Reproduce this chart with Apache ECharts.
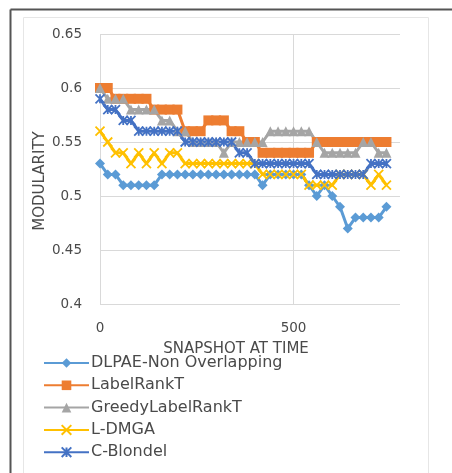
<!DOCTYPE html>
<html><head><meta charset="utf-8">
<script src="https://cdn.jsdelivr.net/npm/echarts@6/dist/echarts.min.js"></script>
<style>html,body{margin:0;padding:0;background:#fff}#c{width:452px;height:473px}</style>
</head><body><div id="c"></div>
<script>
const snapshots = [0,20,40,60,80,100,120,140,160,180,200,220,240,260,280,300,320,340,360,380,400,420,440,460,480,500,520,540,560,580,600,620,640,660,680,700,720,740];
const dlpae = [0.53,0.52,0.52,0.51,0.51,0.51,0.51,0.51,0.52,0.52,0.52,0.52,0.52,0.52,0.52,0.52,0.52,0.52,0.52,0.52,0.52,0.51,0.52,0.52,0.52,0.52,0.52,0.51,0.50,0.51,0.50,0.49,0.47,0.48,0.48,0.48,0.48,0.49];
const labelRankT = [0.60,0.60,0.59,0.59,0.59,0.59,0.59,0.58,0.58,0.58,0.58,0.56,0.56,0.56,0.57,0.57,0.57,0.56,0.56,0.55,0.55,0.54,0.54,0.54,0.54,0.54,0.54,0.54,0.55,0.55,0.55,0.55,0.55,0.55,0.55,0.55,0.55,0.55];
const greedy = [0.60,0.59,0.59,0.59,0.58,0.58,0.58,0.58,0.57,0.57,0.56,0.56,0.55,0.55,0.55,0.55,0.54,0.55,0.55,0.55,0.55,0.55,0.56,0.56,0.56,0.56,0.56,0.56,0.55,0.54,0.54,0.54,0.54,0.54,0.55,0.55,0.54,0.54];
const ldmga = [0.56,0.55,0.54,0.54,0.53,0.54,0.53,0.54,0.53,0.54,0.54,0.53,0.53,0.53,0.53,0.53,0.53,0.53,0.53,0.53,0.53,0.52,0.52,0.52,0.52,0.52,0.52,0.51,0.51,0.51,0.51,0.52,0.52,0.52,0.52,0.51,0.52,0.51];
const cblondel = [0.59,0.58,0.58,0.57,0.57,0.56,0.56,0.56,0.56,0.56,0.56,0.55,0.55,0.55,0.55,0.55,0.55,0.55,0.54,0.54,0.53,0.53,0.53,0.53,0.53,0.53,0.53,0.53,0.52,0.52,0.52,0.52,0.52,0.52,0.52,0.53,0.53,0.53];
const seriesNames = ['DLPAE-Non Overlapping','LabelRankT','GreedyLabelRankT','L-DMGA','C-Blondel'];
const xTitle = 'SNAPSHOT AT TIME';
const yTitle = 'MODULARITY';

const FONT = 'DejaVu Sans';
const TXT = '#4a4a4a';
const pair = arr => snapshots.map((x,i)=>[x,arr[i]]);
const mk = (name, data, color, symbol, size, extra) => Object.assign({
  name, type:'line', data: pair(data), symbol, symbolSize:size,
  lineStyle:{color, width:3}, itemStyle:{color, borderColor:color, borderWidth:0},
  emphasis:{disabled:true}, animation:false
}, extra||{});

const chart = echarts.init(document.getElementById('c'), null, {renderer:'canvas'});
chart.setOption({
  backgroundColor:'#fff',
  animation:false,
  grid:{left:100, right:52, top:34, bottom:169},
  xAxis:{type:'value', min:0, max:775, interval:500,
    axisLine:{show:false}, axisTick:{show:false},
    axisLabel:{color:TXT, fontFamily:FONT, fontSize:13.5, margin:17, showMaxLabel:false},
    splitLine:{show:true, lineStyle:{color:['#d9d9d9','#d9d9d9','rgba(0,0,0,0)'], width:1}}},
  yAxis:{type:'value', min:0.4, max:0.65, interval:0.05,
    axisLine:{show:false}, axisTick:{show:false},
    axisLabel:{color:TXT, fontFamily:FONT, fontSize:13.5, margin:18,
      formatter: v => String(Math.round(v*100)/100)},
    splitLine:{show:true, lineStyle:{color:'#d9d9d9', width:1}}},
  legend:{orient:'vertical', left:38, top:355, height:130, itemWidth:45, itemHeight:12, itemGap:6.3,
    padding:[0,5,0,5],
    textStyle:{color:TXT, fontFamily:FONT, fontSize:16, padding:[0,0,0,-3]},
    data: seriesNames},
  graphic:[
    {type:'line', shape:{x1:10.5,y1:9.5,x2:452,y2:9.5}, style:{stroke:'#555', lineWidth:2}, silent:true},
    {type:'line', shape:{x1:10.5,y1:9.5,x2:10.5,y2:473}, style:{stroke:'#555', lineWidth:2}, silent:true},
    {type:'rect', shape:{x:23.5,y:17.5,width:405,height:460}, style:{fill:'none', stroke:'#e6e6e6', lineWidth:1}, silent:true},
    {type:'text', x:236, y:349, style:{text:xTitle, fill:TXT, font:'15px "'+FONT+'"', textAlign:'center', textVerticalAlign:'middle'}, silent:true},
    {type:'text', x:40, y:181, rotation:Math.PI/2, style:{text:yTitle, fill:TXT, font:'15px "'+FONT+'"', textAlign:'center', textVerticalAlign:'middle'}, silent:true}
  ],
  series:[
    mk(seriesNames[0], dlpae, '#5B9BD5', 'diamond', 10),
    mk(seriesNames[1], labelRankT, '#ED7D31', 'rect', 10),
    mk(seriesNames[2], greedy, '#A5A5A5', 'triangle', 10),
    mk(seriesNames[3], ldmga, '#FFC000', 'path://M0,0L10,10M10,0L0,10', 9, {itemStyle:{color:'#FFC000', borderColor:'#FFC000', borderWidth:1.8}}),
    mk(seriesNames[4], cblondel, '#4472C4', 'path://M0,0L10,10M10,0L0,10M5,0L5,10', 9, {itemStyle:{color:'#4472C4', borderColor:'#4472C4', borderWidth:1.8}})
  ]
});
</script></body></html>
